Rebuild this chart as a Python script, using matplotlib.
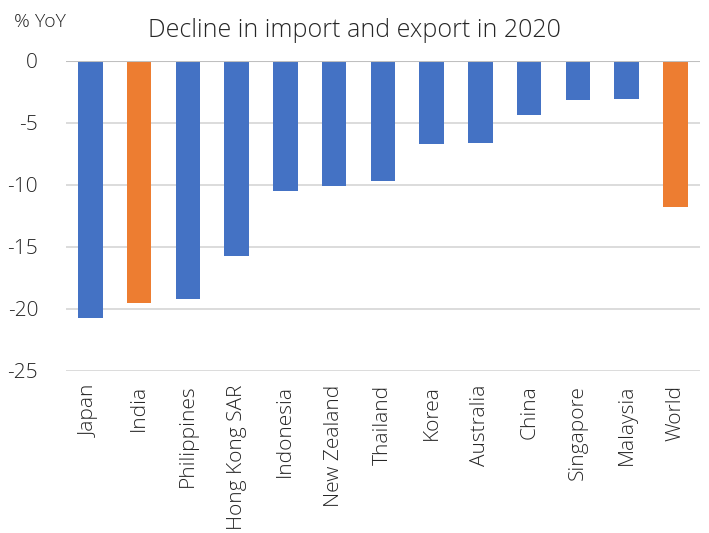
import matplotlib.pyplot as plt

# 2020 trade decline by economy, % YoY
countries = ['Japan', 'India', 'Philippines', 'Hong Kong SAR', 'Indonesia',
             'New Zealand', 'Thailand', 'Korea', 'Australia', 'China',
             'Singapore', 'Malaysia', 'World']
decline = [-20.7, -19.5, -19.2, -15.7, -10.5, -10.1, -9.7, -6.7, -6.6,
           -4.4, -3.2, -3.1, -11.8]
highlight = ['India', 'World']

blue = '#4472C4'
orange = '#ED7D31'
txt = '#262626'

plt.rcParams['font.family'] = ['Open Sans', 'DejaVu Sans']
plt.rcParams['font.weight'] = 'light'
plt.rcParams['axes.unicode_minus'] = False

fig = plt.figure(figsize=(7.09, 5.33), dpi=100)
ax = fig.add_axes([0.093, 0.304, 0.894, 0.582])

colors = [orange if c in highlight else blue for c in countries]
ax.bar(range(len(countries)), decline, width=0.5, color=colors, zorder=3)

ax.set_xlim(-0.5, len(countries) - 0.5)
ax.set_ylim(-25, 0)
ax.set_yticks([0, -5, -10, -15, -20, -25])
ax.set_xticks(range(len(countries)))
ax.set_xticklabels(countries, rotation=90, fontsize=15, color=txt)
ax.tick_params(axis='y', labelsize=15, colors=txt, length=0, pad=20)
ax.tick_params(axis='x', length=0, pad=10)

ax.yaxis.grid(True, color='#D9D9D9', linewidth=1.3, zorder=0)
ax.axhline(0, color='#BFBFBF', linewidth=1.5, zorder=4)
for s in ax.spines.values():
    s.set_visible(False)

fig.text(0.5, 0.943, 'Decline in import and export in 2020', ha='center',
         va='center', fontsize=18, color=txt)
fig.text(0.02, 0.958, '% YoY', ha='left', va='center', fontsize=14,
         color=txt)

fig.savefig('out.png', dpi=100)
